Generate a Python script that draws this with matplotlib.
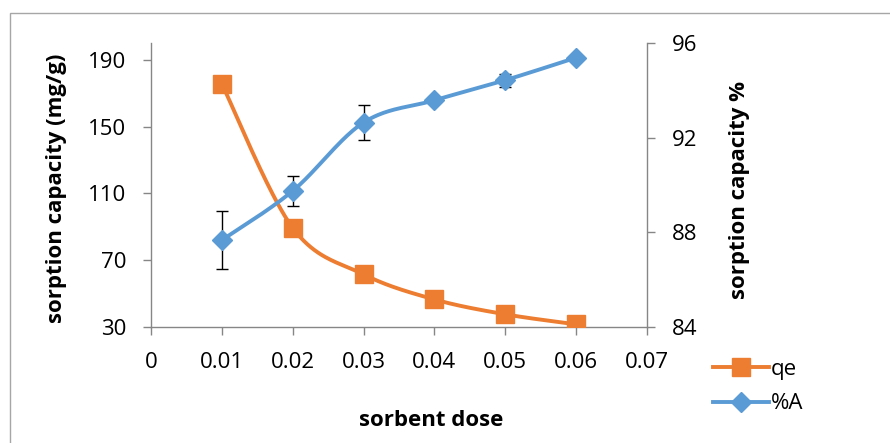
import numpy as np
import matplotlib
matplotlib.use("Agg")
import matplotlib.pyplot as plt
from matplotlib.patches import Rectangle
from matplotlib.lines import Line2D

plt.rcParams['font.family'] = ['Open Sans', 'DejaVu Sans']

# data
dose = [0.01, 0.02, 0.03, 0.04, 0.05, 0.06]
qe = [175.5, 89.3, 61.5, 46.5, 37.6, 31.6]
pct_a = [87.67, 89.75, 92.64, 93.58, 94.43, 95.38]
pct_a_err = [1.24, 0.64, 0.74, 0.0, 0.27, 0.0]

ORANGE = '#ED7D31'
BLUE = '#5B9BD5'
AXIS_GRAY = '#868686'


def smooth(ax, xs, ys):
    """Excel-like smoothed line: Catmull-Rom bezier done in display space."""
    pts = ax.transData.transform(np.column_stack([xs, ys]))
    n = len(pts)
    out = []
    t = np.linspace(0, 1, 40)[:, None]
    for i in range(n - 1):
        p0 = pts[max(i - 1, 0)]
        p1 = pts[i]
        p2 = pts[i + 1]
        p3 = pts[min(i + 2, n - 1)]
        c1 = p1 + (p2 - p0) / 6.0
        c2 = p2 - (p3 - p1) / 6.0
        seg = ((1 - t) ** 3) * p1 + 3 * ((1 - t) ** 2) * t * c1 + 3 * (1 - t) * t ** 2 * c2 + t ** 3 * p2
        out.append(seg if i == 0 else seg[1:])
    seg = np.vstack(out)
    data = ax.transData.inverted().transform(seg)
    return data[:, 0], data[:, 1]


fig = plt.figure(figsize=(8.9, 4.43), dpi=100)
ax = fig.add_axes([151 / 890, 1 - 327 / 443, (647 - 151) / 890, (327 - 43) / 443])
ax2 = ax.twinx()

ax.set_xlim(0, 0.07)
ax.set_ylim(30, 200)
ax2.set_ylim(84, 96)

ax.set_xticks(np.arange(0, 0.071, 0.01))
ax.set_xticklabels(['0', '0.01', '0.02', '0.03', '0.04', '0.05', '0.06', '0.07'])
ax.set_yticks([30, 70, 110, 150, 190])
ax2.set_yticks([84, 88, 92, 96])

for a in (ax, ax2):
    a.spines['top'].set_visible(False)
    for s in ('left', 'right', 'bottom'):
        a.spines[s].set_color(AXIS_GRAY)
        a.spines[s].set_linewidth(1.0)
    a.tick_params(direction='out', length=6, width=1.0, color=AXIS_GRAY,
                  labelsize=16, labelcolor='black')
ax.spines['right'].set_visible(False)
ax2.spines['left'].set_visible(False)
ax2.spines['bottom'].set_visible(False)
ax.tick_params(axis='x', pad=12)
ax.tick_params(axis='y', pad=12)
ax2.tick_params(axis='y', pad=12)

fig.canvas.draw()

# qe on left axis
sx, sy = smooth(ax, dose, qe)
ax.plot(sx, sy, color=ORANGE, lw=2.8, solid_capstyle='round', zorder=3)
ax.plot(dose, qe, ls='none', marker='s', ms=12.5, color=ORANGE, zorder=4)

# %A on right axis
sx2, sy2 = smooth(ax2, dose, pct_a)
ax2.errorbar(dose, pct_a, yerr=pct_a_err, fmt='none', ecolor='black',
             elinewidth=1.0, capsize=4, capthick=1.0, zorder=2)
ax2.plot(sx2, sy2, color=BLUE, lw=2.8, solid_capstyle='round', zorder=3)
ax2.plot(dose, pct_a, ls='none', marker='D', ms=10.5, color=BLUE, zorder=4)

ax.set_ylabel('sorption capacity (mg/g)', fontsize=16, fontweight='bold')
ax.yaxis.set_label_coords(57 / 890, 1 - 188 / 443, transform=fig.transFigure)
ax2.set_ylabel('sorption capacity %', fontsize=16, fontweight='bold')
ax2.yaxis.set_label_coords(740 / 890, 1 - 190 / 443, transform=fig.transFigure)
ax.set_xlabel('sorbent dose', fontsize=16, fontweight='bold')
ax.xaxis.set_label_coords(431 / 890, 1 - 421 / 443, transform=fig.transFigure)
ax.xaxis.label.set_va('center')
ax.yaxis.label.set_va('center')
ax2.yaxis.label.set_va('center')

handles = [
    Line2D([], [], color=ORANGE, lw=2.8, marker='s', ms=12.5),
    Line2D([], [], color=BLUE, lw=2.8, marker='D', ms=10.5),
]
fig.legend(handles, ['qe', '%A'], loc='upper left',
           bbox_to_anchor=(702 / 890, 1 - 348 / 443), frameon=False,
           fontsize=16, handlelength=2.5, handletextpad=0.1,
           labelspacing=0.6, borderpad=0)

# chart frame
fig.patches.append(Rectangle((10 / 890, -0.1), 1.2, 1 - 12.7 / 443 + 0.1,
                             transform=fig.transFigure, fill=False,
                             edgecolor='#A6A6A6', lw=1.0))

fig.savefig('out.png', dpi=100)
